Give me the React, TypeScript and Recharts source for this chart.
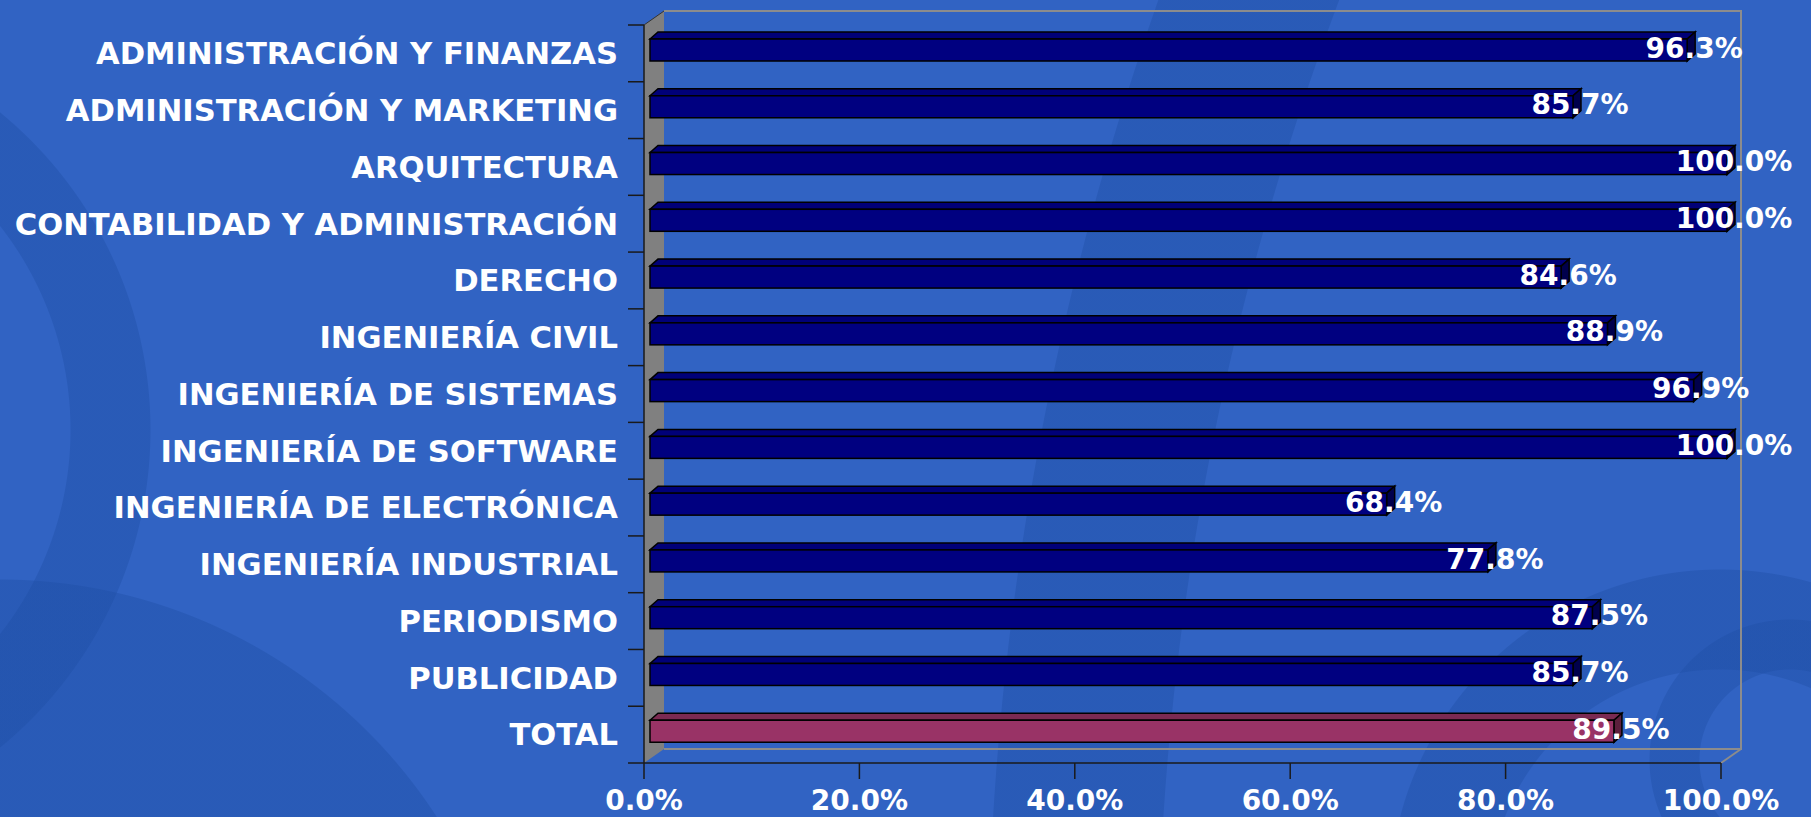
import React from 'react';
import { BarChart, Bar, XAxis, YAxis, ReferenceArea } from 'recharts';

const categories = [
  'ADMINISTRACIÓN Y FINANZAS',
  'ADMINISTRACIÓN Y MARKETING',
  'ARQUITECTURA',
  'CONTABILIDAD Y ADMINISTRACIÓN',
  'DERECHO',
  'INGENIERÍA CIVIL',
  'INGENIERÍA DE SISTEMAS',
  'INGENIERÍA DE SOFTWARE',
  'INGENIERÍA DE ELECTRÓNICA',
  'INGENIERÍA INDUSTRIAL',
  'PERIODISMO',
  'PUBLICIDAD',
  'TOTAL',
];
const values = [96.3, 85.7, 100.0, 100.0, 84.6, 88.9, 96.9, 100.0, 68.4, 77.8, 87.5, 85.7, 89.5];
const xTicks = [0, 20, 40, 60, 80, 100];

const data = categories.map((name, i) => ({ name, value: values[i], total: name === 'TOTAL' }));

const FONT = '"DejaVu Sans", Verdana, sans-serif';
const AXIS = '#1a1a1a';

// back wall + side wall + category ticks (excel 3d look)
function Wall(props: any) {
  const { x, y, width, height } = props;
  const dx = 20;
  const dy = 14;
  const n = categories.length;
  const band = height / n;
  return (
    <g>
      <polyline
        points={`${x + dx},${y - dy} ${x + width + dx},${y - dy} ${x + width + dx},${y + height - dy} ${x + dx},${y + height - dy}`}
        fill="none"
        stroke="#8c8c8c"
        strokeWidth={2}
      />
      <line x1={x + width} y1={y + height} x2={x + width + dx} y2={y + height - dy} stroke="#8c8c8c" strokeWidth={2} />
      <polygon
        points={`${x},${y} ${x + dx},${y - dy} ${x + dx},${y + height - dy} ${x},${y + height}`}
        fill="#808080"
      />
      <line x1={x} y1={y} x2={x + dx} y2={y - dy} stroke="#333" strokeWidth={1} />
      <line x1={x} y1={y} x2={x} y2={y + height} stroke={AXIS} strokeWidth={1.5} />
      <line x1={x} y1={y + height} x2={x + width} y2={y + height} stroke={AXIS} strokeWidth={1.5} />
      {Array.from({ length: n + 1 }, (_, i) => (
        <line key={i} x1={x - 16} y1={y + i * band} x2={x} y2={y + i * band} stroke={AXIS} strokeWidth={1.5} />
      ))}
    </g>
  );
}

function Bar3D(props: any) {
  const { x, y, width, height, payload, value } = props;
  const fx = x + 6;
  const fy = y - 3;
  const d = 8;
  const e = 7;
  const front = payload.total ? '#993366' : '#000080';
  const top = payload.total ? '#7a2a52' : '#000078';
  const side = payload.total ? '#5c1f3c' : '#00004c';
  return (
    <g>
      <polygon
        points={`${fx},${fy} ${fx + d},${fy - e} ${fx + width + d},${fy - e} ${fx + width},${fy}`}
        fill={top}
        stroke="#000"
        strokeWidth={1.5}
      />
      <polygon
        points={`${fx + width},${fy} ${fx + width + d},${fy - e} ${fx + width + d},${fy + height - e} ${fx + width},${fy + height}`}
        fill={side}
        stroke="#000"
        strokeWidth={1.5}
      />
      <rect x={fx} y={fy} width={width} height={height} fill={front} stroke="#000" strokeWidth={1.5} />
      <text
        x={x + width + 13}
        y={y + height / 2 - 5.4 + 10}
        textAnchor="middle"
        fill="#fff"
        fontFamily={FONT}
        fontWeight="bold"
        fontSize={28}
      >
        {value.toFixed(1)}%
      </text>
    </g>
  );
}

const DARK = 'rgba(30,78,165,0.4)';
const bg = [
  `radial-gradient(circle at 4000px 1000px, transparent 2842px, ${DARK} 2843px, ${DARK} 3012px, transparent 3013px)`,
  `radial-gradient(circle at -260px 430px, transparent 330px, ${DARK} 331px, ${DARK} 410px, transparent 411px)`,
  `radial-gradient(circle at 0px 1100px, ${DARK} 520px, transparent 521px)`,
  `radial-gradient(circle at 1720px 900px, transparent 230px, ${DARK} 231px, ${DARK} 330px, transparent 331px)`,
  `radial-gradient(circle at 1790px 760px, transparent 90px, ${DARK} 91px, ${DARK} 140px, transparent 141px)`,
].join(', ');

export default function App() {
  return (
    <div
      style={{
        position: 'absolute',
        left: 0,
        top: 0,
        width: 1811,
        height: 817,
        backgroundColor: '#3163c3',
        backgroundImage: bg,
        overflow: 'hidden',
      }}
    >
      <BarChart
        width={1811}
        height={817}
        data={data}
        layout="vertical"
        margin={{ top: 25, right: 90, bottom: 0, left: 0 }}
        barSize={22}
      >
        <XAxis
          type="number"
          domain={[0, 100]}
          ticks={xTicks}
          interval={0}
          height={54}
          tickSize={16}
          tickMargin={11}
          axisLine={false}
          tickLine={{ stroke: AXIS, strokeWidth: 1.5 }}
          tickFormatter={(v: number) => `${v.toFixed(1)}%`}
          tick={{ fill: '#fff', fontSize: 28, fontWeight: 'bold', fontFamily: FONT }}
        />
        <YAxis
          type="category"
          dataKey="name"
          width={644}
          interval={0}
          tickSize={16}
          tickMargin={10}
          axisLine={false}
          tickLine={false}
          tick={{ fill: '#fff', fontSize: 30.6, fontWeight: 'bold', fontFamily: FONT }}
        />
        <ReferenceArea x1={0} x2={100} ifOverflow="visible" shape={(p: any) => <Wall {...p} />} />
        <Bar dataKey="value" isAnimationActive={false} shape={(p: any) => <Bar3D {...p} />} />
      </BarChart>
    </div>
  );
}
